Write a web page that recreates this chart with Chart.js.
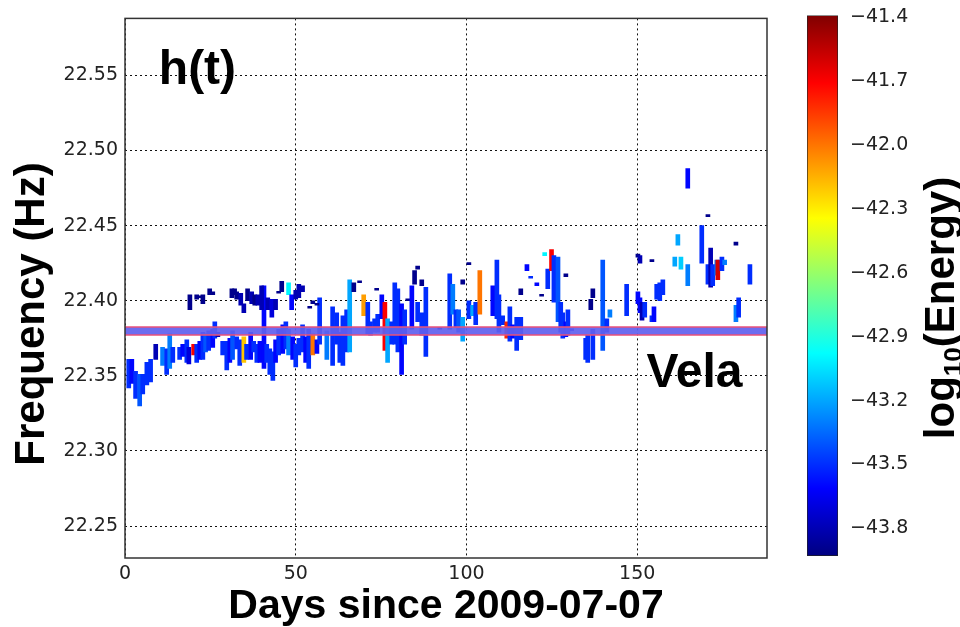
<!DOCTYPE html>
<html>
<head>
<meta charset="utf-8">
<script src="https://cdn.jsdelivr.net/npm/chart.js@4.4.0/dist/chart.umd.min.js"></script>
<style>
    body { margin: 0; background: #fff; width: 960px; height: 627px; overflow: hidden; position: relative; }
    #main { position: absolute; left: 0; top: 0; }
    #cbar { position: absolute; left: 790px; top: 0; }
</style>
</head>
<body>
<canvas id="main" width="790" height="627"></canvas>
<canvas id="cbar" width="170" height="627"></canvas>
<script>
// days since 2009-07-07 for each vertical track segment
const days = [
    1.1, 2.0, 3.1, 4.3, 5.2, 6.4, 7.5, 9.0, 11.0, 12.2, 13.1, 14.0, 16.0, 16.9, 18.1, 18.7, 20.1, 21.0, 21.9, 22.8, 23.6, 24.5, 25.7, 26.3, 27.2,
    19.0, 21.0, 22.2, 22.8, 24.8, 25.7,
    28.6, 29.8, 30.7, 31.5, 32.7, 33.6, 34.8, 35.6, 36.8, 37.7, 38.6, 39.5, 40.7, 41.5, 42.4, 43.3, 44.1, 45.0, 46.2, 47.1, 47.9, 49.1, 50.0, 50.9, 52.0, 52.9, 53.8, 55.0, 56.2, 57.0, 59.1, 60.8,
    31.3, 32.1, 32.7, 33.9, 34.8, 35.9, 37.1, 38.0, 38.9, 40.0, 41.8, 43.0, 44.1, 45.0, 45.9, 47.9, 48.8, 50.0, 50.9, 52.0, 54.1, 55.0, 56.2,
    62.0, 62.9, 63.8, 64.9, 65.8, 67.0, 68.7, 69.9, 71.1, 71.9, 73.1, 73.7, 74.0, 75.2, 76.1, 76.9, 78.1, 79.0, 79.9, 81.0, 81.9, 82.8, 84.0, 84.8, 85.7, 85.7, 86.9, 86.9, 88.1, 92.2,
    95.1, 96.0, 96.9, 97.7, 98.9, 98.9, 100.7, 100.7, 101.8, 102.7, 103.9, 107.7, 108.9, 109.5, 110.6, 111.8, 112.7, 113.5, 114.7, 115.9, 115.9, 117.7, 118.8, 120.6, 122.0, 122.9, 123.8,
    124.9, 125.6, 126.8, 127.6, 128.2, 129.1, 129.7, 129.1, 130.8, 134.9, 135.5, 136.4, 137.0, 137.0, 139.9, 141.1, 142.0, 146.9, 150.2, 150.8, 150.2, 150.8, 151.4, 152.2, 154.3, 154.3,
    154.9, 155.7, 156.6, 157.5, 161.0, 161.9, 162.8, 164.8, 164.8, 168.9, 170.7, 170.7, 171.5, 172.1, 173.3, 173.6, 174.8, 175.6, 178.9, 178.9, 179.7, 183.0
];
const freqHi = [
    22.361, 22.361, 22.353, 22.351, 22.351, 22.359, 22.361, 22.371, 22.369, 22.368, 22.378, 22.369, 22.369, 22.371, 22.374, 22.369, 22.371, 22.371, 22.373, 22.379, 22.378, 22.380, 22.381, 22.386, 22.379,
    22.404, 22.404, 22.403, 22.404, 22.408, 22.406,
    22.373, 22.373, 22.375, 22.380, 22.376, 22.374, 22.376, 22.371, 22.379, 22.373, 22.371, 22.373, 22.410, 22.371, 22.368, 22.366, 22.374, 22.381, 22.384, 22.386, 22.381, 22.376, 22.371, 22.375, 22.384, 22.376, 22.381, 22.378, 22.374, 22.402, 22.380, 22.396,
    22.408, 22.408, 22.406, 22.405, 22.398, 22.408, 22.406, 22.404, 22.404, 22.410, 22.402, 22.401, 22.401, 22.406, 22.413, 22.412, 22.404, 22.407, 22.411, 22.410, 22.396, 22.400, 22.398,
    22.392, 22.379, 22.390, 22.394, 22.414, 22.412, 22.413, 22.404, 22.399, 22.386, 22.388, 22.408, 22.391, 22.404, 22.399, 22.388, 22.386, 22.412, 22.408, 22.398, 22.394, 22.401, 22.410, 22.420, 22.423, 22.399, 22.414, 22.392, 22.409, 22.382,
    22.418, 22.411, 22.394, 22.394, 22.389, 22.414, 22.425, 22.400, 22.397, 22.399, 22.420, 22.410, 22.427, 22.404, 22.390, 22.386, 22.396, 22.384, 22.389, 22.389, 22.408, 22.424, 22.416, 22.412, 22.404, 22.432, 22.421,
    22.434, 22.430, 22.429, 22.399, 22.392, 22.386, 22.394, 22.418, 22.381, 22.375, 22.377, 22.401, 22.408, 22.381, 22.427, 22.388, 22.394, 22.411, 22.431, 22.430, 22.406, 22.402, 22.399, 22.399, 22.390, 22.427,
    22.396, 22.411, 22.412, 22.414, 22.429, 22.444, 22.429, 22.488, 22.424, 22.450, 22.457, 22.424, 22.435, 22.424, 22.427, 22.427, 22.429, 22.427, 22.439, 22.397, 22.402, 22.424
];
const freqLo = [
    22.342, 22.345, 22.335, 22.330, 22.338, 22.344, 22.346, 22.361, 22.357, 22.351, 22.355, 22.359, 22.361, 22.363, 22.359, 22.358, 22.364, 22.359, 22.361, 22.361, 22.366, 22.367, 22.369, 22.375, 22.376,
    22.394, 22.401, 22.402, 22.398, 22.404, 22.404,
    22.364, 22.354, 22.359, 22.361, 22.368, 22.357, 22.359, 22.361, 22.361, 22.366, 22.359, 22.359, 22.355, 22.359, 22.351, 22.347, 22.359, 22.364, 22.365, 22.368, 22.364, 22.361, 22.356, 22.364, 22.366, 22.359, 22.355, 22.364, 22.365, 22.371, 22.361, 22.357,
    22.402, 22.404, 22.401, 22.397, 22.392, 22.400, 22.398, 22.397, 22.397, 22.394, 22.394, 22.389, 22.394, 22.405, 22.406, 22.404, 22.394, 22.401, 22.402, 22.406, 22.395, 22.398, 22.397,
    22.371, 22.359, 22.357, 22.366, 22.366, 22.406, 22.412, 22.390, 22.378, 22.377, 22.379, 22.407, 22.379, 22.388, 22.367, 22.359, 22.371, 22.371, 22.366, 22.351, 22.371, 22.400, 22.381, 22.411, 22.421, 22.386, 22.410, 22.377, 22.363, 22.381,
    22.381, 22.391, 22.382, 22.379, 22.373, 22.411, 22.424, 22.388, 22.390, 22.384, 22.391, 22.390, 22.388, 22.379, 22.384, 22.375, 22.373, 22.375, 22.367, 22.374, 22.404, 22.420, 22.415, 22.410, 22.403, 22.430, 22.408,
    22.420, 22.399, 22.386, 22.379, 22.375, 22.376, 22.377, 22.416, 22.380, 22.361, 22.359, 22.394, 22.402, 22.361, 22.367, 22.379, 22.389, 22.390, 22.429, 22.425, 22.398, 22.392, 22.387, 22.389, 22.386, 22.426,
    22.386, 22.401, 22.400, 22.404, 22.423, 22.437, 22.421, 22.475, 22.410, 22.425, 22.456, 22.411, 22.409, 22.410, 22.417, 22.414, 22.420, 22.424, 22.437, 22.386, 22.389, 22.411
];
const logEnergy = [
    -43.5, -43.6, -43.5, -43.4, -43.5, -43.5, -43.5, -43.8, -43.3, -43.5, -43.3, -43.5, -43.5, -43.6, -43.5, -43.7, -41.7, -43.5, -43.6, -43.5, -43.4, -43.5, -43.6, -43.5, -43.8,
    -43.9, -43.9, -43.9, -43.9, -43.9, -43.9,
    -43.5, -43.5, -43.6, -43.4, -43.5, -43.5, -42.2, -43.5, -43.6, -43.5, -43.5, -43.6, -43.6, -43.5, -43.5, -43.5, -43.6, -43.5, -43.6, -43.5, -43.3, -43.6, -43.5, -43.5, -43.5, -43.6, -43.5, -42.0, -43.6, -43.5, -43.3, -43.5,
    -43.9, -43.9, -43.9, -43.8, -43.8, -43.9, -43.8, -43.9, -43.8, -43.8, -43.8, -43.7, -43.8, -43.9, -43.9, -43.0, -43.6, -43.8, -43.8, -43.8, -43.9, -43.9, -43.9,
    -43.5, -43.5, -43.5, -43.5, -43.2, -43.9, -43.9, -42.1, -43.5, -43.5, -43.5, -43.9, -43.5, -43.6, -41.7, -43.2, -43.5, -43.5, -43.5, -43.6, -43.5, -43.9, -43.6, -43.9, -43.9, -43.5, -43.9, -43.5, -43.5, -43.9,
    -43.5, -43.3, -43.5, -43.4, -43.2, -43.9, -43.9, -43.5, -43.2, -43.5, -42.0, -43.6, -43.5, -43.5, -43.5, -41.8, -43.5, -43.6, -43.5, -43.5, -43.9, -43.6, -43.5, -43.6, -43.9, -43.0, -43.5,
    -41.7, -43.5, -43.4, -43.5, -43.5, -43.6, -43.5, -43.9, -43.6, -43.5, -43.5, -43.9, -43.9, -43.5, -43.4, -43.5, -43.3, -43.5, -43.9, -43.8, -43.6, -43.6, -43.8, -43.5, -43.5, -43.9,
    -43.6, -43.5, -43.5, -43.5, -43.2, -43.2, -43.1, -43.6, -43.3, -43.5, -43.9, -43.5, -43.8, -43.5, -43.3, -41.6, -43.5, -43.3, -43.9, -43.3, -43.5, -43.5
];

// Vela pulsar band
const velaHi = 22.3825;
const velaLo = 22.3772;

const dayTicks = [0, 50, 100, 150];
const freqTicks = [22.25, 22.30, 22.35, 22.40, 22.45, 22.50, 22.55];
const energyTicks = [-41.4, -41.7, -42.0, -42.3, -42.6, -42.9, -43.2, -43.5, -43.8];

const dayMin = 0, dayMax = 188;
const freqMin = 22.2287, freqMax = 22.588;
const cbMin = -43.93, cbMax = -41.39;

const tickFont = { family: "'DejaVu Sans', sans-serif", size: 19 };
const boldFamily = "'Liberation Sans', Arial, sans-serif";

// matplotlib "jet" colour map
function jetRGB(t) {
    t = Math.max(0, Math.min(1, t));
    let c = k => Math.round(255 * Math.max(0, Math.min(1, 1.5 - Math.abs(4 * t - k))));
    return "rgb(" + c(3) + "," + c(2) + "," + c(1) + ")";
}
function energyColor(v) {
    return jetRGB((v - cbMin) / (cbMax - cbMin));
}

let points = days.map((d, i) => ({ x: d, y: [freqLo[i], freqHi[i]] }));

const mainDecor = {
    id: "mainDecor",
    afterDraw(chart) {
        const { ctx, chartArea: a, scales } = chart;
        ctx.save();
        ctx.strokeStyle = "#333";
        ctx.lineWidth = 1.5;
        ctx.strokeRect(a.left, a.top, a.width, a.height);

        ctx.fillStyle = "#000";
        ctx.font = "bold 48px " + boldFamily;
        ctx.textBaseline = "alphabetic";
        ctx.fillText("h(t)", scales.x.getPixelForValue(9.9), scales.y.getPixelForValue(22.5445));
        ctx.fillText("Vela", scales.x.getPixelForValue(152.7), scales.y.getPixelForValue(22.3428));

        ctx.translate(32, 314);
        ctx.rotate(-Math.PI / 2);
        ctx.font = "bold 42px " + boldFamily;
        ctx.textAlign = "center";
        ctx.textBaseline = "middle";
        ctx.fillText("Frequency (Hz)", 0, 0);
        ctx.restore();
    }
};

new Chart(document.getElementById("main"), {
    data: {
        datasets: [
            {
                type: "bar",
                data: points,
                backgroundColor: logEnergy.map(energyColor),
                barThickness: 4,
                minBarLength: 2,
                order: 2
            },
            {
                type: "line",
                data: [{ x: dayMin, y: velaHi }, { x: dayMax, y: velaHi }],
                borderColor: "#e8507a",
                borderWidth: 1.5,
                pointRadius: 0,
                fill: false,
                order: 1
            },
            {
                type: "line",
                data: [{ x: dayMin, y: velaLo }, { x: dayMax, y: velaLo }],
                borderColor: "#e8507a",
                borderWidth: 1.5,
                pointRadius: 0,
                fill: "-1",
                backgroundColor: "rgba(96,96,238,0.92)",
                order: 1
            }
        ]
    },
    options: {
        responsive: false,
        animation: false,
        devicePixelRatio: 1,
        layout: { padding: { top: 14, right: 23, left: 0, bottom: 0 } },
        plugins: { legend: { display: false }, tooltip: { enabled: false } },
        scales: {
            x: {
                type: "linear",
                min: dayMin,
                max: dayMax,
                offset: false,
                z: 1,
                afterBuildTicks: s => { s.ticks = dayTicks.map(v => ({ value: v })); },
                afterFit: s => { s.height = 69; },
                ticks: { font: tickFont, color: "#222", padding: 5, maxRotation: 0 },
                grid: { color: "#111", lineWidth: 1, drawTicks: false, offset: false },
                border: { display: false, dash: [2, 3] },
                title: {
                    display: true,
                    text: "Days since 2009-07-07",
                    color: "#000",
                    font: { family: boldFamily, size: 41, weight: "bold", lineHeight: 1 },
                    padding: { top: 0, bottom: 0 }
                }
            },
            y: {
                type: "linear",
                min: freqMin,
                max: freqMax,
                z: 1,
                afterBuildTicks: s => { s.ticks = freqTicks.map(v => ({ value: v })); },
                afterFit: s => { s.width = 125; },
                ticks: { font: tickFont, color: "#222", padding: 7, callback: v => v.toFixed(2) },
                grid: { color: "#111", lineWidth: 1, drawTicks: false },
                border: { display: false, dash: [2, 3] }
            }
        }
    },
    plugins: [mainDecor]
});

const cbTitle = {
    id: "cbTitle",
    afterDraw(chart) {
        const ctx = chart.ctx;
        const big = "bold 42px " + boldFamily;
        const small = "bold 26px " + boldFamily;
        ctx.save();
        ctx.font = big;
        let w1 = ctx.measureText("log").width;
        let w3 = ctx.measureText("(Energy)").width;
        ctx.font = small;
        let w2 = ctx.measureText("10").width;
        let total = w1 + w2 + w3;
        ctx.translate(150, 308);
        ctx.rotate(-Math.PI / 2);
        ctx.fillStyle = "#000";
        ctx.textBaseline = "alphabetic";
        let x0 = -total / 2;
        ctx.font = big;
        ctx.fillText("log", x0, 14);
        ctx.font = small;
        ctx.fillText("10", x0 + w1, 22);
        ctx.font = big;
        ctx.fillText("(Energy)", x0 + w1 + w2, 14);
        ctx.restore();
    }
};

new Chart(document.getElementById("cbar"), {
    type: "bar",
    data: {
        labels: [""],
        datasets: [{
            data: [[cbMin, cbMax]],
            backgroundColor: c => {
                const area = c.chart.chartArea;
                if (!area) return "#00f";
                const g = c.chart.ctx.createLinearGradient(0, area.bottom, 0, area.top);
                [0, 0.125, 0.375, 0.625, 0.875, 1].forEach(t => g.addColorStop(t, jetRGB(t)));
                return g;
            },
            borderColor: "#222",
            borderWidth: 1,
            borderSkipped: false,
            barPercentage: 1,
            categoryPercentage: 1
        }]
    },
    options: {
        responsive: false,
        animation: false,
        devicePixelRatio: 1,
        layout: { padding: { left: 17, top: 14, bottom: 71, right: 0 } },
        plugins: { legend: { display: false }, tooltip: { enabled: false } },
        scales: {
            x: { display: false },
            y: {
                position: "right",
                min: cbMin,
                max: cbMax,
                afterBuildTicks: s => { s.ticks = energyTicks.map(v => ({ value: v })); },
                afterFit: s => { s.width = 122; },
                ticks: { font: tickFont, color: "#222", padding: 4, callback: v => "\u2212" + Math.abs(v).toFixed(1) },
                grid: { display: false },
                border: { display: false }
            }
        }
    },
    plugins: [cbTitle]
});
</script>
</body>
</html>
